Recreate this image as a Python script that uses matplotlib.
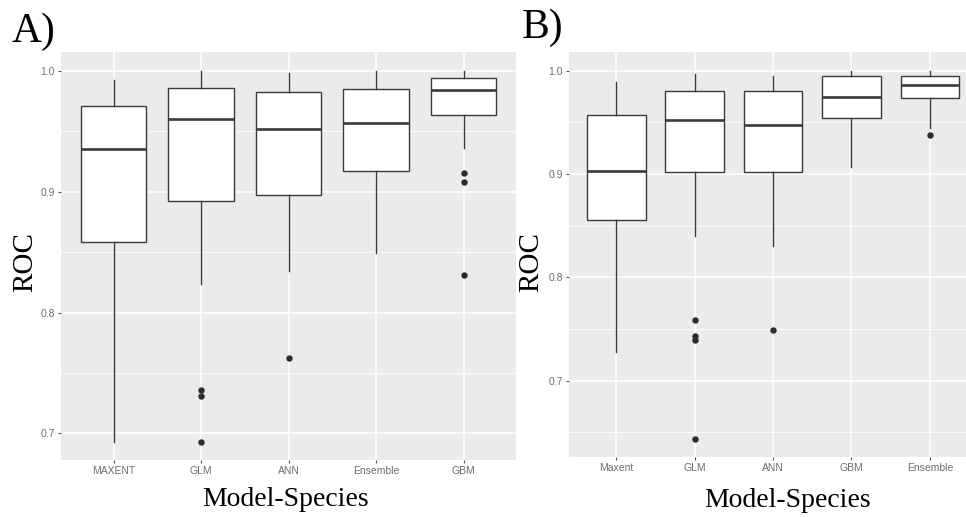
import matplotlib
matplotlib.use("Agg")
import matplotlib.pyplot as plt
from matplotlib.ticker import MultipleLocator

# ------------------------------------------------------------------
# Panel A summary values
# ------------------------------------------------------------------

A_LABELS = ["MAXENT", "GLM", "ANN", "Ensemble", "GBM"]
A_WHISLO = [0.693, 0.824, 0.834, 0.849, 0.936]
A_Q1 = [0.858, 0.892, 0.897, 0.917, 0.963]
A_MED = [0.935, 0.960, 0.952, 0.957, 0.984]
A_Q3 = [0.971, 0.986, 0.982, 0.985, 0.994]
A_WHISHI = [0.992, 1.000, 0.998, 1.000, 1.000]
A_OUTLIERS = [[], [0.736, 0.731, 0.693], [0.762], [], [0.915, 0.908, 0.831]]

# ------------------------------------------------------------------
# Panel B summary values
# ------------------------------------------------------------------

B_LABELS = ["Maxent", "GLM", "ANN", "GBM", "Ensemble"]
B_WHISLO = [0.728, 0.840, 0.830, 0.907, 0.944]
B_Q1 = [0.855, 0.902, 0.902, 0.954, 0.973]
B_MED = [0.903, 0.952, 0.947, 0.974, 0.986]
B_Q3 = [0.957, 0.980, 0.980, 0.995, 0.995]
B_WHISHI = [0.989, 0.997, 0.995, 1.000, 1.000]
B_OUTLIERS = [[], [0.759, 0.743, 0.739, 0.643], [0.749], [], [0.938]]

EDGE = "#3a3a3a"
TICK_TXT = "#6e6e6e"
SERIF = "Liberation Serif"
SANS = "Liberation Sans"


def make_stats(labels, lo, q1, med, q3, hi, outliers):
    stats = []
    for i in range(len(labels)):
        stats.append({
            "label": labels[i],
            "whislo": lo[i],
            "q1": q1[i],
            "med": med[i],
            "q3": q3[i],
            "whishi": hi[i],
            "fliers": outliers[i],
        })
    return stats


def draw_panel(ax, stats, ylim):
    ax.set_facecolor("#EBEBEB")
    for s in ax.spines.values():
        s.set_visible(False)

    ax.bxp(
        stats,
        positions=range(1, len(stats) + 1),
        widths=0.75,
        patch_artist=True,
        showcaps=False,
        boxprops=dict(facecolor="white", edgecolor=EDGE, linewidth=1.0),
        whiskerprops=dict(color=EDGE, linewidth=1.0),
        medianprops=dict(color=EDGE, linewidth=1.9),
        flierprops=dict(marker="o", markersize=3.6, markerfacecolor="#2b2b2b",
                        markeredgecolor="#2b2b2b", linestyle="none"),
        zorder=3,
    )

    ax.set_xlim(0.4, len(stats) + 0.6)
    ax.set_ylim(*ylim)

    ax.yaxis.set_major_locator(MultipleLocator(0.1))
    ax.yaxis.set_minor_locator(MultipleLocator(0.05))
    ax.yaxis.set_major_formatter(plt.FuncFormatter(lambda v, p: f"{v:.1f}"))

    ax.grid(True, which="major", color="white", linewidth=1.1, zorder=0)
    ax.grid(True, which="minor", axis="y", color="white", linewidth=0.55, zorder=0)
    ax.set_axisbelow(True)

    ax.tick_params(axis="both", which="major", length=2.5, width=0.8,
                   color="#555555", labelcolor=TICK_TXT, labelsize=7.5, pad=2)
    ax.tick_params(axis="y", which="minor", length=0)
    for lab in ax.get_xticklabels() + ax.get_yticklabels():
        lab.set_fontfamily(SANS)


fig = plt.figure(figsize=(9.66, 5.17), dpi=100)

ax_a = fig.add_axes([61 / 966, 1 - 460 / 517, 455 / 966, 408 / 517])
ax_b = fig.add_axes([569 / 966, 1 - 457 / 517, 408 / 966, 405 / 517])

draw_panel(ax_a, make_stats(A_LABELS, A_WHISLO, A_Q1, A_MED, A_Q3, A_WHISHI, A_OUTLIERS),
           (0.678, 1.0155))
draw_panel(ax_b, make_stats(B_LABELS, B_WHISLO, B_Q1, B_MED, B_Q3, B_WHISHI, B_OUTLIERS),
           (0.626, 1.018))

# panel letters and axis titles
fig.text(12 / 966, 1 - 42 / 517, "A)", fontsize=30, family=SERIF, va="baseline", ha="left")
fig.text(522 / 966, 1 - 38 / 517, "B)", fontsize=30, family=SERIF, va="baseline", ha="left")

fig.text(25 / 966, 1 - 262 / 517, "ROC", fontsize=21, family=SERIF, rotation=90,
         va="center", ha="center")
fig.text(531 / 966, 1 - 262 / 517, "ROC", fontsize=21, family=SERIF, rotation=90,
         va="center", ha="center")

fig.text(286 / 966, 1 - 506 / 517, "Model-Species", fontsize=20, family=SERIF,
         va="baseline", ha="center")
fig.text(788 / 966, 1 - 507 / 517, "Model-Species", fontsize=20, family=SERIF,
         va="baseline", ha="center")

fig.savefig("out.png", dpi=100)
